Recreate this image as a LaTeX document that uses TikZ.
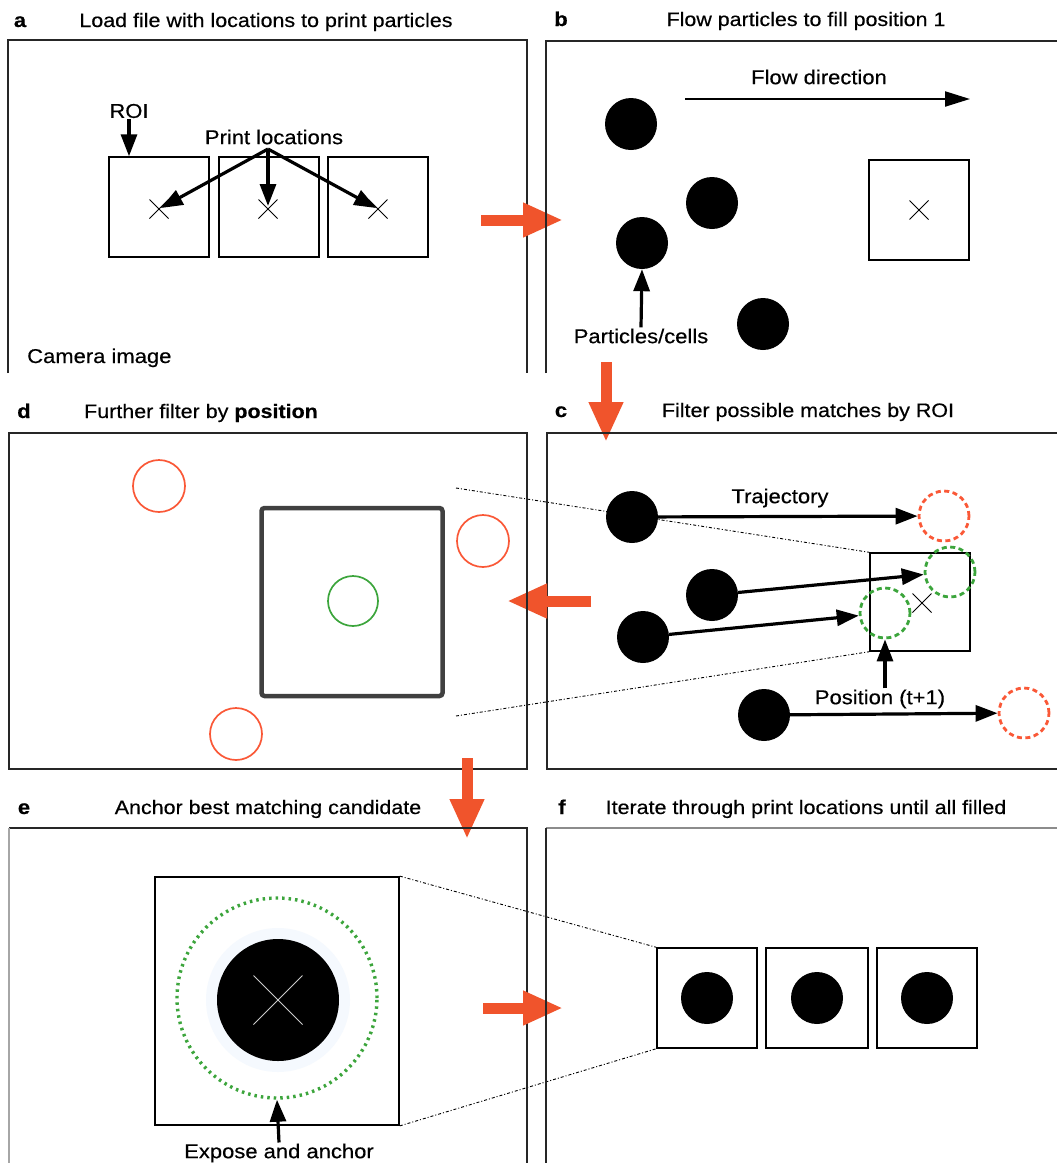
\documentclass[tikz,border=0pt]{standalone}
\usepackage{fontspec}
\setmainfont{Liberation Sans}[FakeStretch=1.1,FakeBold=0.4]
\usetikzlibrary{arrows.meta,shapes.misc,backgrounds}
\definecolor{redarr}{RGB}{240,84,44}
\definecolor{ored}{RGB}{250,88,55}
\definecolor{grn}{RGB}{60,165,60}
\definecolor{halo}{RGB}{245,249,254}
\begin{document}
\begin{tikzpicture}[x=1pt,y=-1pt,
  frame/.style={line width=1.7pt, draw=black!85},
  roibox/.style={draw, line width=1.4pt, minimum width=100pt, minimum height=100pt, inner sep=0pt},
  disc/.style={circle, fill=black, minimum size=52pt, inner sep=0pt},
  xmk/.style={cross out, draw, line width=1pt, minimum size=18pt, inner sep=0pt},
  lbl/.style={font=\fontsize{20}{24}\selectfont, inner sep=1pt},
  ttl/.style={font=\fontsize{19.5}{24}\selectfont, anchor=base, inner sep=0pt},
  pl/.style={font=\fontsize{20}{24}\selectfont\bfseries, anchor=base, inner sep=0pt},
  arr/.style={line width=3.2pt, -{Triangle[length=22pt,width=16pt]}},
  bigarr/.style={draw=redarr, line width=11pt, -{Triangle[length=40pt,width=32pt]}},
  zoomline/.style={line width=0.9pt, dash pattern=on 3pt off 2pt on 1pt off 2pt},
  dcirc/.style={circle, line width=2.8pt, dash pattern=on 5pt off 3.5pt, minimum size=50pt, inner sep=0pt},
  ocirc/.style={circle, draw=ored, line width=1.7pt, minimum size=52pt, inner sep=0pt},
]
\begin{scope}[on background layer]
\fill[white] (0,0) rectangle (1057,1163);
\end{scope}
\useasboundingbox (0,0) rectangle (1057,1163);

% ---------------- panel a
\draw[frame] (8,373) -- (8,40) -- (527,40) -- (527,373);
\node[pl] (la) at (20,27) {a};
\node[ttl] (ta) at (266,27) {Load file with locations to print particles};
\node[roibox] (a1) at (159,207) {};
\node[roibox] (a2) at (269,207) {};
\node[roibox] (a3) at (378,207) {};
\node[xmk] (x1) at (159,209) {};
\node[xmk] (x2) at (268,209) {};
\node[xmk] (x3) at (378,209) {};
\node[lbl] (roi) at (129,111) {ROI};
\draw[arr] (roi.south) -- (roi.south |- a1.north);
\node[lbl] (ploc) at (274,137) {Print locations};
\coordinate (plp) at (268,149);
\draw[arr, shorten >=2pt] (plp) -- (x1.center);
\draw[arr, shorten >=3pt] (plp) -- (x2.center);
\draw[arr, shorten >=2pt] (plp) -- (x3.center);
\node[lbl, anchor=base west] (cam) at (26,363) {Camera image};
\coordinate (rab1) at (481,220);
\coordinate (rab2) at (563,220);
\draw[bigarr] (rab1) -- (rab2);

% ---------------- panel b
\draw[frame] (546,373) -- (546,41) -- (1057,41);
\node[pl] (lb) at (561,26) {b};
\node[ttl] (tb) at (806,26) {Flow particles to fill position 1};
\node[lbl] (fd) at (819,77) {Flow direction};
\coordinate (fd1) at (685,99);
\coordinate (fd2) at (970,99);
\draw[line width=2.2pt, -{Triangle[length=25pt,width=15pt]}] (fd1) -- (fd2);
\node[disc] (b1) at (631,124) {};
\node[disc] (b2) at (712,203) {};
\node[disc] (b3) at (642,243) {};
\node[disc] (b4) at (763,324) {};
\node[roibox] (bb) at (919,210) {};
\node[xmk] (bx) at (919,210) {};
\node[lbl] (pc) at (641,336) {Particles/cells};
\draw[arr] (pc.north) -- (b3.south);
\coordinate (rbc1) at (606,362);
\coordinate (rbc2) at (606,442);
\draw[bigarr] (rbc1) -- (rbc2);

% ---------------- panel c
\draw[frame] (1057,433) -- (547,433) -- (547,769) -- (1057,769);
\node[pl] (lc) at (561,417) {c};
\node[ttl] (tc) at (808,417) {Filter possible matches by ROI};
\node[draw, line width=1.4pt, minimum width=100pt, minimum height=98pt, inner sep=0pt] (cb) at (920,602) {};
\node[xmk] (cx) at (922,603) {};
\node[dcirc, draw=ored] (oc1) at (944,516) {};
\node[dcirc, draw=ored] (oc2) at (1024,713) {};
\node[dcirc, draw=grn] (gc1) at (950,572) {};
\node[dcirc, draw=grn] (gc2) at (885,613) {};
\coordinate (dz1) at (456,488);
\coordinate (dz2) at (456,716);
\begin{scope}[on background layer]
\draw[zoomline] (dz1) -- (cb.north west);
\draw[zoomline] (dz2) -- (cb.south west);
\end{scope}
\node[disc] (c1) at (632,517) {};
\node[disc] (c2) at (712,595) {};
\node[disc] (c3) at (643,637) {};
\node[disc] (c4) at (764,715) {};
\draw[arr] (c1) -- (oc1);
\draw[arr] (c2) -- (gc1);
\draw[arr] (c3) -- (gc2);
\draw[arr] (c4) -- (oc2);
\node[lbl] (traj) at (780,498) {Trajectory};
\node[lbl] (pos) at (880,699) {Position (t+1)};
\draw[arr] (gc2.south |- pos.north) -- (gc2.south);
\coordinate (rcd1) at (591,601);
\coordinate (rcd2) at (507,601);
\draw[bigarr] (rcd1) -- (rcd2);

% ---------------- panel d
\draw[frame] (9,433) rectangle (527,769);
\node[pl] (ld) at (24,418) {d};
\node[ttl, anchor=base west] (td) at (84,418) {Further filter by \textbf{position}};
\node[ocirc] (od1) at (159,486) {};
\node[ocirc] (od2) at (483,541) {};
\node[ocirc] (od3) at (236,734) {};
\node[draw=black!75, line width=4.5pt, rounded corners=3pt, minimum width=181pt, minimum height=188pt, inner sep=0pt] (dsq) at (352,602) {};
\node[circle, draw=grn, line width=1.7pt, minimum size=50pt, inner sep=0pt] (gd) at (353,601) {};
\coordinate (rde1) at (467,758);
\coordinate (rde2) at (467,839);
\draw[bigarr] (rde1) -- (rde2);

% ---------------- panel e
\draw[frame] (9,828) -- (527,828) -- (527,1163);
\draw[line width=1.4pt, draw=black!35] (9,828) -- (9,1163);
\node[pl] (le) at (24,814) {e};
\node[ttl] (te) at (268,814) {Anchor best matching candidate};
\node[draw, line width=1.7pt, minimum width=244pt, minimum height=248pt, inner sep=0pt] (es) at (277,1001) {};
\fill[halo] (278,1000) circle (72pt);
\node[circle, draw=grn, line width=3.4pt, dash pattern=on 2.5pt off 4pt, minimum size=200pt, inner sep=0pt] (eg) at (277,998) {};
\node[disc, minimum size=122pt] (ed) at (278,1000) {};
\node[cross out, draw=black!20, line width=1pt, minimum size=48pt, inner sep=0pt] (ex) at (278,1000) {};
\node[lbl] (expose) at (279,1153) {Expose and anchor};
\draw[arr] (expose.north) -- (eg.south);
\coordinate (ref1) at (483,1008);
\coordinate (ref2) at (563,1008);
\draw[bigarr] (ref1) -- (ref2);

% ---------------- panel f
\draw[line width=1.2pt, draw=black!45] (546,828) -- (1057,828);
\draw[frame] (546,828) -- (546,1163);
\node[pl] (lf) at (562,814) {f};
\node[ttl] (tf) at (806,814) {Iterate through print locations until all filled};
\node[roibox] (f1) at (707,998) {};
\node[roibox, minimum width=102pt] (f2) at (817,998) {};
\node[roibox] (f3) at (927,998) {};
\node[disc] (fd1c) at (707,998) {};
\node[disc] (fd2c) at (817,998) {};
\node[disc] (fd3c) at (927,998) {};
\begin{scope}[on background layer]
\draw[zoomline] (es.north east) -- (f1.north west);
\draw[zoomline] (es.south east) -- (f1.south west);
\end{scope}
\end{tikzpicture}
\end{document}
